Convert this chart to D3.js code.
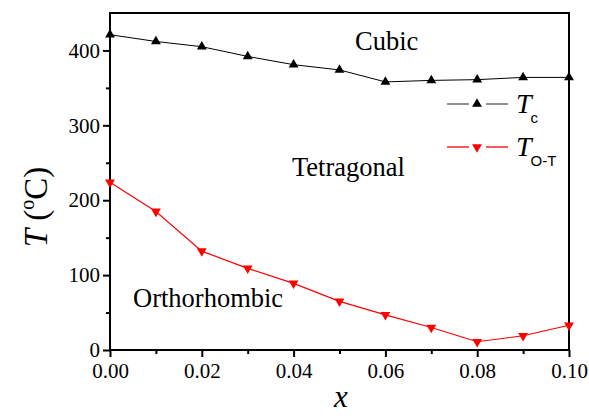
<!DOCTYPE html>
<html><head><meta charset="utf-8">
<script src="https://cdn.jsdelivr.net/npm/d3@7"></script>
<style>body{margin:0;background:#fff}</style>
</head><body>
<svg id="c" width="589" height="416"></svg>
<script>
const xValues = [0, 0.01, 0.02, 0.03, 0.04, 0.05, 0.06, 0.07, 0.08, 0.09, 0.10];
const tcValues = [421, 412, 405, 392, 381, 374, 358, 360, 361, 364, 364];
const totValues = [224, 185, 132, 109, 89, 65, 47, 30, 11, 19, 33];
const xTicks = [0, 0.02, 0.04, 0.06, 0.08, 0.10];
const yTicks = [0, 100, 200, 300, 400];

const svg = d3.select("#c");
const L = 110, R = 569, T = 13, B = 350;
const x = d3.scaleLinear().domain([0, 0.1]).range([L, R]);
const y = d3.scaleLinear().domain([0, 450]).range([B, T]);
const serif = "'Liberation Serif', 'Times New Roman', serif";
const sans = "Arimo, 'Liberation Sans', Roboto, sans-serif";

const xAxis = d3.axisBottom(x).tickValues(xTicks).tickFormat(d3.format(".2f")).tickSize(7).tickPadding(6);
const xMinor = d3.axisBottom(x).tickValues([0.01,0.03,0.05,0.07,0.09]).tickFormat("").tickSize(4);
const yAxis = d3.axisLeft(y).tickValues(yTicks).tickFormat(d3.format("d")).tickSize(7).tickPadding(3);
const yMinor = d3.axisLeft(y).tickValues([50,150,250,350]).tickFormat("").tickSize(4);

function style(g){
  g.attr("font-family",null).attr("font-size",null);
  g.select(".domain").remove();
  g.selectAll("line").attr("stroke","#000").attr("stroke-width",2);
  g.selectAll("text").style("font-family",serif).style("font-size","21px").attr("fill","#000");
}
svg.append("g").attr("transform",`translate(0,${B})`).call(xAxis).call(style);
svg.append("g").attr("transform",`translate(0,${B})`).call(xMinor).call(style);
svg.append("g").attr("transform",`translate(${L},0)`).call(yAxis).call(style);
svg.append("g").attr("transform",`translate(${L},0)`).call(yMinor).call(style);

svg.append("rect").attr("x",L).attr("y",T).attr("width",R-L).attr("height",B-T)
  .attr("fill","none").attr("stroke","#000").attr("stroke-width",2);

const tc = xValues.map((d,i)=>[d,tcValues[i]]);
const tot = xValues.map((d,i)=>[d,totValues[i]]);
const line = d3.line().x(d=>x(d[0])).y(d=>y(d[1]));
svg.append("path").datum(tc).attr("d",line).attr("fill","none").attr("stroke","#000").attr("stroke-width",1);
svg.append("path").datum(tot).attr("d",line).attr("fill","none").attr("stroke","#ff0000").attr("stroke-width",1.2);

const tri = d3.symbol().type(d3.symbolTriangle).size(42);
svg.selectAll(".up").data(tc).join("path").attr("d",tri)
  .attr("transform",d=>`translate(${x(d[0])},${y(d[1])})`).attr("fill","#000");
svg.selectAll(".dn").data(tot).join("path").attr("d",tri)
  .attr("transform",d=>`translate(${x(d[0])},${y(d[1])}) rotate(180)`).attr("fill","#ff0000");

const lab = (t,xx,yy)=>svg.append("text").attr("x",xx).attr("y",yy).text(t)
  .style("font-family",serif).style("font-size","26.5px").attr("fill","#000");
lab("Cubic",355,50);
lab("Tetragonal",292,176);
lab("Orthorhombic",133,307);

const leg = [{c:"#000",y:104,sub:"c",rot:0},{c:"#ff0000",y:147,sub:"O-T",rot:180}];
leg.forEach(d=>{
  const lc = d.c==="#000"?"#555":d.c;
  svg.append("line").attr("x1",447).attr("x2",469).attr("y1",d.y).attr("y2",d.y).attr("stroke",lc).attr("stroke-width",1.3);
  svg.append("line").attr("x1",486).attr("x2",508).attr("y1",d.y).attr("y2",d.y).attr("stroke",lc).attr("stroke-width",1.3);
  svg.append("path").attr("d",tri).attr("transform",`translate(477,${d.y}) rotate(${d.rot})`).attr("fill",d.c);
  const t = svg.append("text").attr("x",516).attr("y",d.y+9).style("font-family",serif).style("font-size","28px").attr("fill","#000");
  t.append("tspan").style("font-style","italic").text("T");
  t.append("tspan").style("font-family",sans).style("font-size","15px").attr("dy",10).attr("dx",-1).text(d.sub);
});

const yl = svg.append("text").attr("transform","translate(47,207) rotate(-90)").attr("text-anchor","middle")
  .style("font-family",serif).style("font-size","33px").attr("fill","#000");
yl.append("tspan").style("font-style","italic").text("T");
yl.append("tspan").text(" (");
yl.append("tspan").style("font-size","20px").attr("dy",-13).text("o");
yl.append("tspan").attr("dy",13).text("C)");

svg.append("text").attr("x",341).attr("y",407).attr("text-anchor","middle")
  .style("font-family",serif).style("font-style","italic").style("font-size","31px").attr("fill","#000").text("x");
</script>
</body></html>
